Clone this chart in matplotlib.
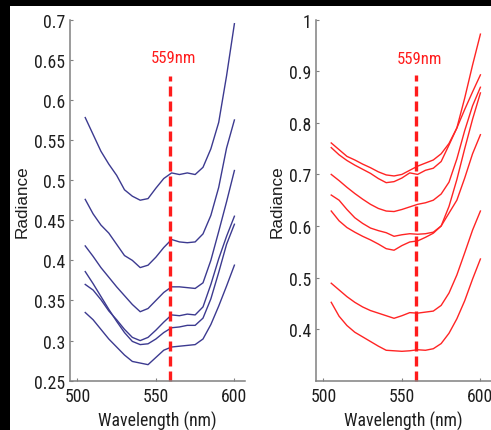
import matplotlib
matplotlib.use("Agg")
import matplotlib.pyplot as plt
from matplotlib import font_manager
from matplotlib.font_manager import FontProperties
from matplotlib.patches import Rectangle

# Wavelength grid (nm) shared by every spectrum
wavelength = [505, 510, 515, 520, 525, 530, 535, 540, 545, 550,
              555, 560, 565, 570, 575, 580, 585, 590, 595, 600]

# Left panel spectra (radiance)
left_1 = [0.578, 0.557, 0.536, 0.520, 0.506, 0.488, 0.480, 0.475, 0.477, 0.490,
          0.502, 0.509, 0.507, 0.509, 0.507, 0.516, 0.539, 0.572, 0.630, 0.695]
left_2 = [0.476, 0.458, 0.444, 0.434, 0.420, 0.406, 0.400, 0.391, 0.394, 0.404,
          0.416, 0.426, 0.423, 0.422, 0.423, 0.433, 0.456, 0.491, 0.540, 0.575]
left_3 = [0.418, 0.405, 0.391, 0.379, 0.367, 0.356, 0.345, 0.336, 0.340, 0.350,
          0.360, 0.367, 0.367, 0.366, 0.365, 0.372, 0.400, 0.436, 0.473, 0.512]
left_4 = [0.386, 0.371, 0.355, 0.339, 0.324, 0.310, 0.299, 0.295, 0.296, 0.302,
          0.310, 0.316, 0.317, 0.319, 0.319, 0.328, 0.352, 0.385, 0.420, 0.445]
left_5 = [0.370, 0.363, 0.351, 0.337, 0.326, 0.314, 0.304, 0.300, 0.304, 0.313,
          0.323, 0.332, 0.331, 0.333, 0.332, 0.342, 0.370, 0.402, 0.430, 0.455]
left_6 = [0.335, 0.326, 0.314, 0.302, 0.292, 0.282, 0.274, 0.272, 0.270, 0.279,
          0.288, 0.292, 0.293, 0.294, 0.295, 0.302, 0.320, 0.343, 0.368, 0.394]

# Right panel spectra (radiance)
right_1 = [0.761, 0.748, 0.735, 0.728, 0.720, 0.713, 0.705, 0.699, 0.697, 0.700,
           0.708, 0.716, 0.722, 0.728, 0.740, 0.760, 0.790, 0.826, 0.860, 0.893]
right_2 = [0.752, 0.738, 0.727, 0.718, 0.710, 0.702, 0.692, 0.684, 0.686, 0.693,
           0.703, 0.700, 0.708, 0.712, 0.725, 0.757, 0.790, 0.848, 0.912, 0.972]
right_3 = [0.700, 0.688, 0.675, 0.663, 0.652, 0.642, 0.634, 0.629, 0.628, 0.632,
           0.637, 0.642, 0.645, 0.650, 0.662, 0.685, 0.730, 0.785, 0.833, 0.869]
right_4 = [0.660, 0.650, 0.632, 0.616, 0.605, 0.596, 0.591, 0.587, 0.580, 0.583,
           0.585, 0.584, 0.585, 0.588, 0.600, 0.638, 0.690, 0.750, 0.807, 0.858]
right_5 = [0.629, 0.610, 0.597, 0.588, 0.580, 0.573, 0.565, 0.556, 0.553, 0.562,
           0.569, 0.571, 0.578, 0.586, 0.600, 0.625, 0.650, 0.693, 0.740, 0.777]
right_6 = [0.489, 0.476, 0.463, 0.452, 0.443, 0.436, 0.431, 0.426, 0.421, 0.426,
           0.432, 0.431, 0.433, 0.435, 0.446, 0.470, 0.505, 0.548, 0.592, 0.629]
right_7 = [0.452, 0.425, 0.407, 0.394, 0.385, 0.376, 0.367, 0.359, 0.358, 0.357,
           0.358, 0.360, 0.359, 0.362, 0.372, 0.392, 0.420, 0.455, 0.497, 0.536]

left_series = [left_1, left_2, left_3, left_4, left_5, left_6]
right_series = [right_1, right_2, right_3, right_4, right_5, right_6, right_7]

marker_nm = 559
marker_label = "559nm"

x_ticks = [500, 550, 600]
left_y_ticks = [0.25, 0.3, 0.35, 0.4, 0.45, 0.5, 0.55, 0.6, 0.65, 0.7]
left_y_labels = ["0.25", "0.3", "0.35", "0.4", "0.45", "0.5", "0.55", "0.6", "0.65", "0.7"]
right_y_ticks = [0.4, 0.5, 0.6, 0.7, 0.8, 0.9, 1.0]
right_y_labels = ["0.4", "0.5", "0.6", "0.7", "0.8", "0.9", "1"]


def narrow_font_file():
    """Return the file of a regular narrow/condensed sans face, if any."""
    wanted = ["liberation sans narrow", "arial narrow", "roboto condensed",
              "noto sans", "open sans"]
    best = None
    for entry in font_manager.fontManager.ttflist:
        name = entry.name.lower()
        fname = entry.fname.lower()
        narrow = ("narrow" in name or "condensed" in name or "narrow" in fname
                  or ("condensed" in fname and "semi" not in fname and "extra" not in fname)
                  or entry.stretch in ("condensed", "narrow"))
        if not narrow or entry.style != "normal":
            continue
        if entry.weight not in (400, "normal", "regular", "book"):
            continue
        for rank, w in enumerate(wanted):
            if name.startswith(w):
                if best is None or rank < best[0]:
                    best = (rank, entry.fname)
    return None if best is None else best[1]


nf = narrow_font_file()
if nf:
    def tick_font(size):
        return FontProperties(fname=nf, size=size)
    TICK_SIZE, XLAB_SIZE, MARK_SIZE = 12.8, 12.8, 12.0
else:
    def tick_font(size):
        return FontProperties(family=["Liberation Sans", "DejaVu Sans"], size=size)
    TICK_SIZE, XLAB_SIZE, MARK_SIZE = 11.3, 11.6, 10.8

WIDE = ["Liberation Sans", "DejaVu Sans"]
SPINE = "#808080"
TEXT = "#1e1e1e"
BLUE = "#3c3a90"
RED = "#ff2424"
MARK_RED = "#ff1c1c"

W, H = 491, 431
fig = plt.figure(figsize=(W / 100, H / 100), dpi=100)
fig.patch.set_facecolor("white")


def style_axes(ax, xlim, ylim, yticks, ylabels):
    ax.set_xlim(*xlim)
    ax.set_ylim(*ylim)
    for side in ("top", "right"):
        ax.spines[side].set_visible(False)
    for side in ("left", "bottom"):
        ax.spines[side].set_color(SPINE)
        ax.spines[side].set_linewidth(1.1)
    ax.set_xticks(x_ticks)
    ax.set_xticklabels([str(t) for t in x_ticks])
    ax.set_yticks(yticks)
    ax.set_yticklabels(ylabels)
    ax.tick_params(direction="in", length=2.5, width=0.8, color=SPINE,
                   labelcolor=TEXT)
    ax.tick_params(axis="y", pad=3.4)
    ax.tick_params(axis="x", pad=4.5)
    for lab in ax.get_xticklabels() + ax.get_yticklabels():
        lab.set_fontproperties(tick_font(TICK_SIZE))
    ax.set_xlabel("Wavelength (nm)", fontproperties=tick_font(XLAB_SIZE),
                  color=TEXT, labelpad=4.5)
    ax.set_ylabel("Radiance", family=WIDE, fontsize=12.3,
                  color=TEXT, labelpad=3)


ax_l = fig.add_axes([70 / W, 49.3 / H, 175.4 / W, 361 / H])
ax_r = fig.add_axes([316 / W, 49.3 / H, 175.4 / W, 361 / H])

for s in left_series:
    ax_l.plot(wavelength, s, color=BLUE, lw=1.0, solid_joinstyle="round")
for s in right_series:
    ax_r.plot(wavelength, s, color=RED, lw=1.0, solid_joinstyle="round")

style_axes(ax_l, (495.3, 607), (0.25, 0.7), left_y_ticks, left_y_labels)
style_axes(ax_r, (495.3, 607), (0.3, 1.0), right_y_ticks, right_y_labels)

# 559 nm marker lines and labels
ax_l.plot([marker_nm, marker_nm], [0.25, 0.63], color=MARK_RED, lw=2.4,
          dashes=(3.0, 1.5), clip_on=False)
ax_r.plot([marker_nm, marker_nm], [0.3, 0.892], color=MARK_RED, lw=2.4,
          dashes=(3.0, 1.5), clip_on=False)
ax_l.text(marker_nm + 2, 0.653, marker_label, color=MARK_RED,
          fontproperties=tick_font(MARK_SIZE), ha="center", va="center")
ax_r.text(marker_nm + 2, 0.924, marker_label, color=MARK_RED,
          fontproperties=tick_font(MARK_SIZE), ha="center", va="center")

# dark frame strips along the top and left edges
fig.patches.append(Rectangle((0, 1 - 7 / H), 1, 7 / H, transform=fig.transFigure,
                             facecolor="black", edgecolor="none", zorder=10))
fig.patches.append(Rectangle((0, 0), 9.5 / W, 1, transform=fig.transFigure,
                             facecolor="black", edgecolor="none", zorder=10))

fig.savefig("out.png", dpi=100, facecolor="white")
